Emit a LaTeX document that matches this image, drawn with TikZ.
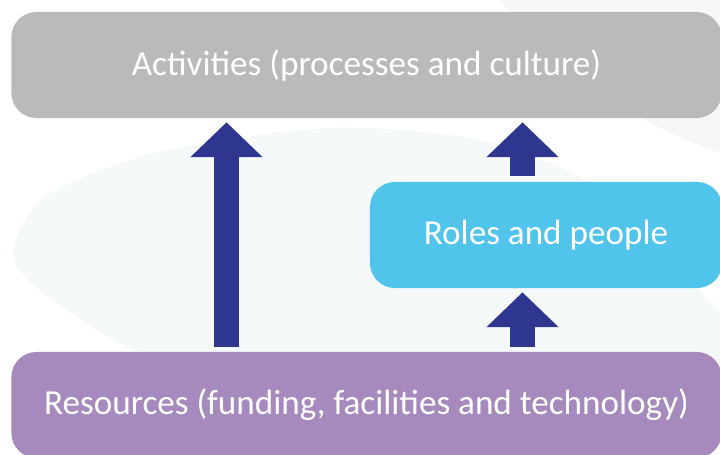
\documentclass[tikz,border=0pt]{standalone}
\usepackage{tikz, xcolor}
\usepackage{fontspec}
\setmainfont{Carlito}
\usetikzlibrary{shapes,arrows.meta}

\definecolor{boxgrey}{HTML}{BAB9BC}
\definecolor{boxcyan}{HTML}{50C4EA}
\definecolor{boxpurple}{HTML}{A78ABD}
\definecolor{arrowblue}{HTML}{2E3690}
\definecolor{bgblue}{HTML}{F5F9FA}
\definecolor{bggrey}{HTML}{F7F6F9}

\begin{document}
\begin{tikzpicture}[x=0.025cm, y=-0.025cm]
\tikzstyle{boxr}=[rectangle, rounded corners=0.625cm, text=white, font=\fontsize{25}{30}\selectfont, minimum height=2.65cm, inner sep=0pt]
\tikzstyle{drawstyle}=[line width=0.625cm, draw=arrowblue, fill=arrowblue, -{Triangle[width=1.75cm, length=0.87cm]}, shorten <=0.125cm, shorten >=0.1cm]

\useasboundingbox (0,0) rectangle (720,454);
\clip (0,0) rectangle (720,454);

% faint background shapes
\fill[bggrey] (880,-315) circle (12.35cm);
\fill[bgblue] plot[smooth cycle] coordinates {(13,250) (35,205) (77,180) (167,150) (330,128) (470,138) (570,172) (650,230) (700,290) (740,360) (550,420) (250,395) (133,350) (67,310) (25,277)};

\node[boxr, fill=boxgrey, minimum width=17.75cm] (Act) at (366.5,65) {Activities (processes and culture)};
\node[boxr, fill=boxcyan, minimum width=8.8cm] (Rol) at (546,235) {Roles and people};
\node[boxr, fill=boxpurple, minimum width=17.75cm] (Res) at (366.5,405) {Resources (funding, facilities and technology)};

\coordinate (L) at (226.5,0);
\coordinate (R) at (522.5,0);
\draw[drawstyle] (Res.north -| L) -- (Act.south -| L);
\draw[drawstyle, shorten <=0.15cm] (Rol.north -| R) -- (Act.south -| R);
\draw[drawstyle] (Res.north -| R) -- (Rol.south -| R);
\end{tikzpicture}
\end{document}
